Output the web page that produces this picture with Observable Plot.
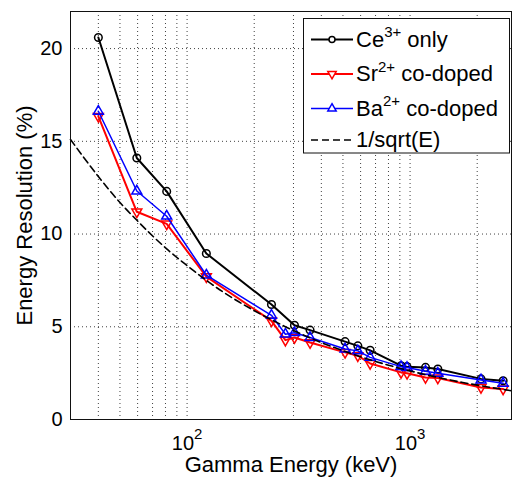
<!DOCTYPE html>
<html><head><meta charset="utf-8">
<script src="https://cdn.jsdelivr.net/npm/d3@7"></script>
<script src="https://cdn.jsdelivr.net/npm/@observablehq/plot@0.6"></script>
<style>
body{margin:0;background:#fff;}
#chart{position:relative;width:512px;height:478px;overflow:hidden;}
</style></head><body><div id="chart"></div>
<script>
// ---- data ----
const energyCe = [40, 59.5, 81, 122, 239, 303, 356, 511, 583, 662, 911, 969, 1173, 1332, 2080, 2614];
const resCe    = [20.6, 14.1, 12.3, 8.95, 6.2, 5.08, 4.82, 4.2, 3.97, 3.73, 2.9, 2.85, 2.81, 2.72, 2.19, 2.09];
const energyCo = [40, 59.5, 81, 122, 239, 276, 303, 356, 511, 583, 662, 911, 969, 1173, 1332, 2080, 2614];
const resSr    = [16.35, 11.2, 10.55, 7.7, 5.32, 4.28, 4.42, 4.15, 3.62, 3.44, 3.02, 2.54, 2.49, 2.27, 2.24, 1.73, 1.65];
const resBa    = [16.62, 12.32, 10.96, 7.78, 5.62, 4.6, 4.68, 4.42, 3.8, 3.7, 3.35, 2.85, 2.8, 2.6, 2.49, 2.13, 1.95];
const energyRef = [30, 40, 50, 60, 81, 100, 122, 160, 200, 300, 400, 500, 662, 800, 1000, 1332, 1700, 2200, 2850];
const resRef    = [15.1, 13.1, 11.7, 10.7, 9.2, 8.3, 7.5, 6.55, 5.87, 4.8, 4.15, 3.71, 3.22, 2.93, 2.62, 2.27, 2.01, 1.77, 1.55];
const xGrid = [40, 50, 60, 70, 80, 90, 100, 200, 300, 400, 500, 600, 700, 800, 900, 1000, 2000];
const xTicks = [100, 1000];
const yTicks = [0, 5, 10, 15, 20];
const seriesNames = ["Ce", "Sr", "Ba", "1/sqrt(E)"];
const seriesSup = ["3+", "2+", "2+", ""];
const seriesRest = [" only", " co-doped", " co-doped", ""];
const seriesColors = ["#000000", "#ff0000", "#0000ff", "#000000"];

const FONT = "Liberation Sans, Arial, Helvetica, sans-serif";
const toRows = (xs, ys) => xs.map((x, i) => ({x, y: ys[i]}));
const ce = toRows(energyCe, resCe);
const sr = toRows(energyCo, resSr);
const ba = toRows(energyCo, resBa);
const ref = toRows(energyRef, resRef);

const sqrt3 = Math.sqrt(3);
const triDown = {draw(ctx, size) {
  const y = Math.sqrt(size / (sqrt3 * 3));
  ctx.moveTo(0, y * 2); ctx.lineTo(sqrt3 * y, -y); ctx.lineTo(-sqrt3 * y, -y); ctx.closePath();
}};

const plot = Plot.plot({
  width: 512, height: 478,
  marginLeft: 70, marginRight: 1, marginTop: 11, marginBottom: 59,
  style: {fontFamily: FONT, background: "white", color: "black"},
  x: {type: "log", domain: [30, 2850]},
  y: {domain: [0, 22]},
  marks: [
    Plot.ruleX(xGrid, {stroke: "#000", strokeDasharray: "1,3", strokeOpacity: 0.75}),
    Plot.ruleY(yTicks.filter(d => d > 0), {stroke: "#000", strokeDasharray: "1,3", strokeOpacity: 0.75}),
    Plot.line(ce, {x: "x", y: "y", stroke: seriesColors[0], strokeWidth: 2}),
    Plot.dot(ce, {x: "x", y: "y", r: 3.8, stroke: seriesColors[0], fill: "none", strokeWidth: 1.5}),
    Plot.line(sr, {x: "x", y: "y", stroke: seriesColors[1], strokeWidth: 2}),
    Plot.dot(sr, {x: "x", y: "y", r: 3.7, symbol: triDown, stroke: seriesColors[1], fill: "none", strokeWidth: 1.5}),
    Plot.line(ba, {x: "x", y: "y", stroke: seriesColors[2], strokeWidth: 1.5}),
    Plot.dot(ba, {x: "x", y: "y", r: 3.7, symbol: "triangle", stroke: seriesColors[2], fill: "none", strokeWidth: 1.5}),
    Plot.line(ref, {x: "x", y: "y", stroke: seriesColors[3], strokeWidth: 1.6, strokeDasharray: "7,4", curve: "monotone-x"}),
    Plot.frame({stroke: "#111"}),
    Plot.axisY({ticks: yTicks, tickSize: 0, tickPadding: 8, fontSize: 20, label: null}),
    Plot.axisX({ticks: xTicks, tickSize: 0, tickPadding: 16, fontSize: 20, label: null,
      tickFormat: d => "10^" + Math.round(Math.log10(d))}),
    Plot.text(["Energy Resolution (%)"], {frameAnchor: "left", rotate: -90, dx: -45.5, fontSize: 22, textAnchor: "middle"}),
    Plot.text(["Gamma Energy (keV)"], {frameAnchor: "bottom", dy: 52, fontSize: 22, textAnchor: "middle"})
  ]
});

const svg = d3.select(plot);
// superscript exponents on the x tick labels
svg.selectAll('g[aria-label="x-axis tick label"] text').each(function() {
  const t = d3.select(this);
  const s = t.text();
  if (s.indexOf("^") < 0) return;
  const [base, exp] = s.split("^");
  t.text(base);
  t.append("tspan").attr("dy", -11).attr("font-size", 15).text(exp);
});

// legend
const lg = svg.append("g").attr("font-family", FONT).attr("text-anchor", "start");
lg.append("rect").attr("x", 303.5).attr("y", 18.5).attr("width", 206).attr("height", 134.5)
  .attr("fill", "white").attr("stroke", "#111").attr("stroke-width", 1);
const rowY = [39.5, 74, 108.5, 140];
const symbols = [d3.symbolCircle, triDown, d3.symbolTriangle, null];
const symSize = [28, 30, 30, 0];
seriesNames.forEach((name, i) => {
  const y = rowY[i];
  lg.append("line").attr("x1", 311).attr("x2", 353).attr("y1", y).attr("y2", y)
    .attr("stroke", seriesColors[i]).attr("stroke-width", i === 2 ? 1.5 : (i === 3 ? 1.6 : 2))
    .attr("stroke-dasharray", i === 3 ? "7,4" : null);
  if (symbols[i]) {
    lg.append("path").attr("d", d3.symbol(symbols[i], symSize[i])())
      .attr("transform", `translate(332,${y})`).attr("fill", "white")
      .attr("stroke", seriesColors[i]).attr("stroke-width", 1.5);
  }
  const t = lg.append("text").attr("x", 356).attr("y", y + 7).attr("font-size", 22).attr("fill", "black");
  t.append("tspan").text(name);
  if (seriesSup[i]) {
    t.append("tspan").attr("font-size", 15).attr("dy", -9.5).text(seriesSup[i]);
    t.append("tspan").attr("dy", 9.5).text(seriesRest[i]);
  }
});

document.getElementById("chart").appendChild(plot);
</script>
</body></html>
